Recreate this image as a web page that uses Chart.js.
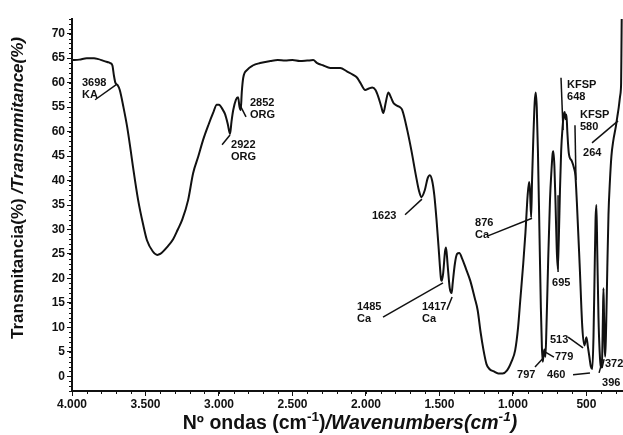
<!DOCTYPE html>
<html>
<head>
<meta charset="utf-8">
<script src="https://cdn.jsdelivr.net/npm/chart.js@4.4.0/dist/chart.umd.min.js"></script>
<style>
html, body { margin: 0; padding: 0; background: #fff; }
#wrap { width: 623px; height: 435px; }
</style>
</head>
<body>
<div id="wrap"><canvas id="irChart"></canvas></div>
<script>
// espectro IR: numero de onda (cm-1) y transmitancia (%)
var wavenumbers = [
  4000, 3950, 3900, 3850, 3820, 3790, 3760, 3740, 3725, 3715, 3705, 3690, 3675, 3650, 3625, 3600,
  3585, 3550, 3516, 3490, 3450, 3420, 3400, 3350, 3312, 3280, 3250, 3210, 3176, 3140, 3108, 3070,
  3040, 3015, 3000, 2975, 2958, 2940, 2925, 2915, 2903, 2885, 2870, 2860, 2852, 2845, 2835, 2808,
  2770, 2720, 2650, 2600, 2550, 2500, 2450, 2400, 2359, 2332, 2290, 2243, 2175, 2130, 2087, 2060,
  2039, 2005, 1980, 1957, 1935, 1916, 1895, 1882, 1865, 1848, 1830, 1814, 1790, 1770, 1753, 1719,
  1690, 1660, 1640, 1623, 1600, 1580, 1565, 1550, 1535, 1520, 1505, 1490, 1485, 1475, 1462, 1455,
  1445, 1430, 1417, 1410, 1395, 1380, 1365, 1345, 1320, 1290, 1260, 1240, 1220, 1200, 1180, 1160,
  1130, 1100, 1070, 1040, 1010, 985, 965, 950, 930, 915, 900, 890, 884, 876, 870, 862,
  852, 845, 838, 830, 820, 810, 803, 797, 792, 786, 779, 772, 760, 748, 738, 730,
  725, 718, 710, 702, 695, 688, 680, 672, 662, 654, 648, 642, 636, 630, 620, 600,
  585, 575, 565, 545, 528, 513, 505, 500, 490, 480, 470, 460, 452, 445, 438, 432,
  426, 418, 410, 402, 396, 392, 388, 384, 380, 376, 372, 366, 358, 350, 340, 330,
  318, 300, 290, 280, 272, 266, 264, 262, 260
];
var transmittance = [
  64.6, 64.7, 65.0, 65.0, 64.8, 64.5, 64.2, 64.0, 63.5, 61.5, 60.0, 59.5, 58.5, 55.0, 51.0, 46.0,
  42.8, 36.0, 31.0, 27.8, 25.5, 24.8, 25.0, 26.5, 28.0, 30.0, 32.0, 36.0, 41.5, 45.0, 48.3, 51.5,
  53.8, 55.5, 55.5, 54.5, 53.5, 51.5, 49.5, 52.0, 54.4, 56.5, 57.0, 55.0, 54.4, 58.0, 61.0, 62.6,
  63.5, 64.0, 64.4, 64.6, 64.5, 64.6, 64.4, 64.5, 64.6, 64.0, 63.5, 63.0, 63.0, 62.3, 61.6, 61.0,
  60.0, 58.5, 58.8, 59.0, 58.5, 57.1, 55.0, 53.8, 56.0, 58.0, 57.0, 55.9, 55.3, 55.0, 54.4, 50.3,
  46.0, 41.0, 38.0, 36.6, 38.0, 40.5, 41.1, 40.0, 37.0, 32.0, 26.0, 20.0, 19.5, 21.0, 25.5, 26.3,
  23.0, 18.0, 17.0, 19.0, 23.0, 25.0, 25.2, 24.0, 22.0, 19.5, 16.0, 13.5, 9.0, 5.3, 2.5, 1.5,
  1.0, 0.6, 0.6, 1.2, 3.0, 5.3, 10.0, 15.6, 23.0, 29.3, 37.0, 39.7, 38.0, 32.5, 40.0, 48.0,
  56.0, 58.0, 55.0, 46.0, 30.0, 14.0, 6.0, 3.0, 4.5, 5.5, 4.0, 10.0, 24.0, 36.0, 42.0, 45.5,
  46.0, 43.0, 35.0, 26.0, 22.0, 28.0, 38.0, 46.0, 51.0, 53.5, 54.0, 52.5, 53.5, 50.0, 45.6, 44.0,
  42.6, 41.0, 35.5, 22.0, 10.0, 6.3, 7.5, 8.0, 6.0, 4.0, 2.0, 1.5, 8.0, 20.0, 32.0, 35.0,
  25.0, 12.0, 5.0, 2.0, 1.8, 5.0, 12.0, 18.0, 12.0, 6.0, 4.0, 10.0, 22.0, 33.0, 40.0, 45.0,
  48.0, 51.0, 53.0, 55.0, 57.0, 58.5, 60.0, 66.0, 73.0
];

var xTicks = [4000, 3500, 3000, 2500, 2000, 1500, 1000, 500];
var xTickLabels = ['4.000', '3.500', '3.000', '2.500', '2.000', '1.500', '1.000', '500'];
var yTicks = [0, 5, 10, 15, 20, 25, 30, 35, 40, 45, 50, 55, 60, 65, 70];
var yTickLabels = ['0', '5', '10', '15', '20', '25', '30', '35', '40', '45', '60', '55', '60', '65', '70'];

// etiquetas de bandas: texto, posicion del texto (cm-1, %) y linea guia
var peakTexts = [
  ['3698', 'KA'], ['2852', 'ORG'], ['2922', 'ORG'], ['1623'], ['876', 'Ca'], ['1485', 'Ca'],
  ['1417', 'Ca'], ['695'], ['797'], ['779'], ['513'], ['460'], ['396'], ['372'],
  ['KFSP', '648'], ['KFSP', '580'], ['264']
];
var peakTextPos = [
  [3932, 59.9], [2789, 55.8], [2918, 47.3], [1959, 32.8], [1258, 31.3], [2061, 14.2],
  [1619, 14.2], [734, 19.1], [972, 0.3], [714, 3.9], [748, 7.4], [768, 0.3], [394, -1.4], [374, 2.5],
  [632, 59.5], [544, 53.4], [523, 45.6]
];
var peakLeaders = [
  [3843, 56.5, 3694, 59.7], [2816, 53.0, 2864, 55.8], [2979, 47.3, 2925, 49.3], [1734, 33.0, 1619, 36.2],
  [1170, 28.7, 870, 32.3], [1884, 12.1, 1476, 19.1], [1449, 13.6, 1414, 16.2], [693, 37.0, 693, 21.3],
  [850, 1.9, 795, 3.7], [782, 5.0, 721, 3.9], [625, 8.0, 523, 5.8], [591, 0.3, 476, 0.7],
  [414, 0.7, 394, 2.9], [394, 1.7, 380, 3.5], [673, 61.0, 659, 50.3], [578, 51.3, 571, 40.1],
  [462, 47.7, 285, 52.2]
];

var ink = '#111';
var tickFont = { family: 'Liberation Sans', size: 12, weight: 'bold' };

// dibuja ticks menores, etiquetas y titulos de ejes
var extrasPlugin = {
  id: 'extras',
  afterDraw: function(chart) {
    var ctx = chart.ctx;
    var xs = chart.scales.x;
    var ys = chart.scales.y;
    var area = chart.chartArea;
    ctx.save();
    ctx.strokeStyle = ink;
    ctx.lineWidth = 1;
    ctx.beginPath();
    for (var v = -3; v <= 73; v++) {
      var py = Math.round(ys.getPixelForValue(v)) + 0.5;
      ctx.moveTo(area.left - 3, py);
      ctx.lineTo(area.left, py);
    }
    for (var w = 300; w <= 4000; w += 100) {
      var px = Math.round(xs.getPixelForValue(w)) + 0.5;
      ctx.moveTo(px, area.bottom);
      ctx.lineTo(px, area.bottom + 3);
    }
    ctx.stroke();

    // etiquetas de bandas
    ctx.lineWidth = 1.5;
    ctx.fillStyle = ink;
    ctx.font = 'bold 11px "Liberation Sans"';
    ctx.textBaseline = 'middle';
    ctx.textAlign = 'left';
    for (var i = 0; i < peakTexts.length; i++) {
      var L = peakLeaders[i];
      ctx.beginPath();
      ctx.moveTo(xs.getPixelForValue(L[0]), ys.getPixelForValue(L[1]));
      ctx.lineTo(xs.getPixelForValue(L[2]), ys.getPixelForValue(L[3]));
      ctx.stroke();
      var tx = xs.getPixelForValue(peakTextPos[i][0]);
      var ty = ys.getPixelForValue(peakTextPos[i][1]);
      peakTexts[i].forEach(function(t, j) {
        ctx.fillText(t, tx, ty + j * 12);
      });
    }

    // titulos con partes en cursiva y superindices
    function drawParts(parts, size) {
      var total = 0;
      parts.forEach(function(p) {
        ctx.font = (p.it ? 'italic ' : '') + 'bold ' + (p.sup ? size * 0.7 : size) + 'px "Liberation Sans"';
        p.w = ctx.measureText(p.t).width;
        total += p.w;
      });
      var cx = -total / 2;
      parts.forEach(function(p) {
        ctx.font = (p.it ? 'italic ' : '') + 'bold ' + (p.sup ? size * 0.7 : size) + 'px "Liberation Sans"';
        ctx.fillText(p.t, cx, p.sup ? -size * 0.35 : 0);
        cx += p.w;
      });
    }
    ctx.textBaseline = 'middle';
    ctx.save();
    ctx.translate(350, 424);
    drawParts([
      { t: 'Nº ondas (cm' }, { t: '-1', sup: true }, { t: ')' },
      { t: '/Wavenumbers(cm', it: true }, { t: '-1', sup: true, it: true }, { t: ')', it: true }
    ], 19.5);
    ctx.restore();
    ctx.save();
    ctx.translate(18, 188);
    ctx.rotate(-Math.PI / 2);
    drawParts([{ t: 'Transmitancia(%) ' }, { t: '/Transmmitance(%)', it: true }], 17);
    ctx.restore();
    ctx.restore();
  }
};

var ctx = document.getElementById('irChart').getContext('2d');
var irChart = new Chart(ctx, {
  type: 'line',
  data: {
    labels: wavenumbers,
    datasets: [{
      data: wavenumbers.map(function(w, i) { return { x: w, y: transmittance[i] }; }),
      borderColor: ink,
      borderWidth: 2,
      pointRadius: 0,
      fill: false,
      cubicInterpolationMode: 'monotone',
      clip: 4
    }]
  },
  options: {
    responsive: true,
    maintainAspectRatio: false,
    animation: false,
    layout: { padding: { top: 19, right: 1, left: 0, bottom: 0 } },
    plugins: { legend: { display: false }, tooltip: { enabled: false } },
    scales: {
      x: {
        type: 'linear',
        reverse: true,
        min: 258,
        max: 4000,
        afterBuildTicks: function(s) { s.ticks = xTicks.map(function(v) { return { value: v }; }); },
        afterFit: function(s) { s.height = 44; },
        ticks: {
          autoSkip: false, maxRotation: 0, padding: 1, color: ink, font: tickFont,
          callback: function(v, i) { return xTickLabels[i]; }
        },
        grid: { drawOnChartArea: false, color: ink, tickLength: 5 },
        border: { color: ink, width: 2 }
      },
      y: {
        min: -3,
        max: 73,
        afterBuildTicks: function(s) { s.ticks = yTicks.map(function(v) { return { value: v }; }); },
        afterFit: function(s) { s.width = 72; },
        ticks: {
          padding: 2, color: ink, font: tickFont,
          callback: function(v, i) { return yTickLabels[i]; }
        },
        grid: { drawOnChartArea: false, color: ink, tickLength: 5 },
        border: { color: ink, width: 2 }
      }
    }
  },
  plugins: [extrasPlugin]
});
</script>
</body>
</html>
